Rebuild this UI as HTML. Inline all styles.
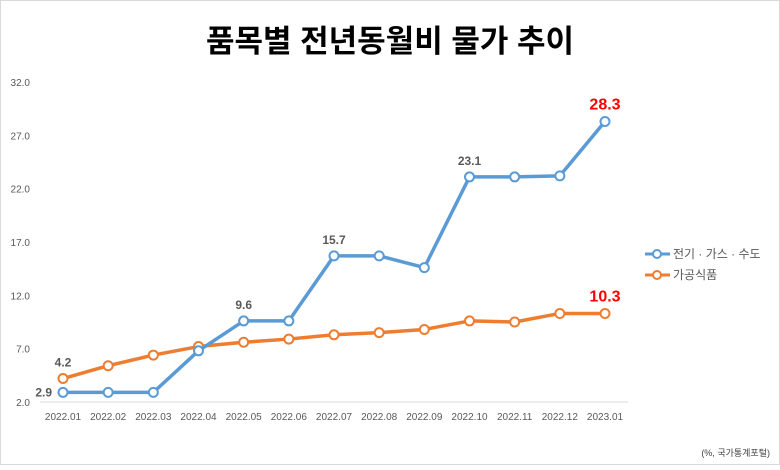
<!DOCTYPE html>
<html><head><meta charset="utf-8"><style>
body{margin:0;width:780px;height:465px;background:#fff;overflow:hidden;font-family:"Liberation Sans","Noto Sans CJK KR",sans-serif}
</style></head><body>
<svg id="chart" width="780" height="465" xmlns="http://www.w3.org/2000/svg">
<rect x="0.5" y="0.5" width="779" height="464" fill="#fff" stroke="#d9d9d9"/>
<text x="390" y="52" text-anchor="middle" font-size="31" font-weight="bold" font-family="Liberation Sans, Noto Sans CJK KR, sans-serif" fill="#000">품목별 전년동월비 물가 추이</text>
<g id="axes"></g><g id="series"></g>
<g>
<line x1="645" y1="254" x2="670" y2="254" stroke="#5b9bd5" stroke-width="3"/><circle cx="657" cy="254" r="4" fill="#fff" stroke="#5b9bd5" stroke-width="2"/>
<text x="673" y="258" font-size="12" fill="#595959">전기 · 가스 · 수도</text>
<line x1="645" y1="275" x2="670" y2="275" stroke="#ed7d31" stroke-width="3"/><circle cx="657" cy="275" r="4" fill="#fff" stroke="#ed7d31" stroke-width="2"/>
<text x="673" y="279" font-size="12" fill="#595959">가공식품</text>
</g>
<text x="770" y="456" text-anchor="end" font-size="9" fill="#404040">(%, 국가통계포털)</text>
</svg>
<script>
const categories=["2022.01","2022.02","2022.03","2022.04","2022.05","2022.06","2022.07","2022.08","2022.09","2022.10","2022.11","2022.12","2023.01"];
const utilities=[2.9,2.9,2.9,6.8,9.6,9.6,15.7,15.7,14.6,23.1,23.1,23.2,28.3];
const food=[4.2,5.4,6.4,7.2,7.6,7.9,8.3,8.5,8.8,9.6,9.5,10.3,10.3];
const yTicks=[2,7,12,17,22,27,32];
const utilLabels={0:"2.9",4:"9.6",6:"15.7",9:"23.1",12:"28.3"};
const foodLabels={0:"4.2",12:"10.3"};
const NS="http://www.w3.org/2000/svg";
const x=i=>63+i*(605-63)/12;
const y=v=>402-(v-2)*(320/30);
function mk(t,a,p){const e=document.createElementNS(NS,t);for(const k in a)e.setAttribute(k,a[k]);p.appendChild(e);return e;}
const ax=document.getElementById('axes');
yTicks.forEach(v=>{const t=mk('text',{x:30,y:y(v)+4,'text-anchor':'end','font-size':10,fill:'#595959'},ax);t.textContent=v.toFixed(1);

});
const base=mk('line',{x1:40,y1:402,x2:628,y2:402,stroke:'#d9d9d9'},ax);


categories.forEach((c,i)=>{const t=mk('text',{x:x(i),y:420,'text-anchor':'middle','font-size':10,fill:'#595959'},ax);t.textContent=c;

});
const sg=document.getElementById('series');
function series(vals,color,name,labels){
 const pl=mk('polyline',{points:vals.map((v,i)=>x(i)+','+y(v)).join(' '),fill:'none',stroke:color,'stroke-width':3.5,'stroke-linejoin':'round'},sg);
 
 
 vals.forEach((v,i)=>{const c=mk('circle',{cx:x(i),cy:y(v),r:4.5,fill:'#fff',stroke:color,'stroke-width':2},sg);
 
 });
 for(const k in labels){const i=+k,last=i===vals.length-1;
  let tx=x(i),ty=y(vals[i])-12,anchor='middle';
  if(name==='utilities'&&i===0){tx=x(i)-11;ty=y(vals[i])+4;anchor='end';}
  const t=mk('text',{x:tx,y:ty,'text-anchor':anchor,'font-size':last?16:12,'font-weight':'bold',fill:last?'#ff0000':'#595959'},sg);
  t.textContent=labels[k];
  
  }
}
series(food,'#ed7d31','processed-food',foodLabels);
series(utilities,'#5b9bd5','utilities',utilLabels);
</script>
</body></html>
